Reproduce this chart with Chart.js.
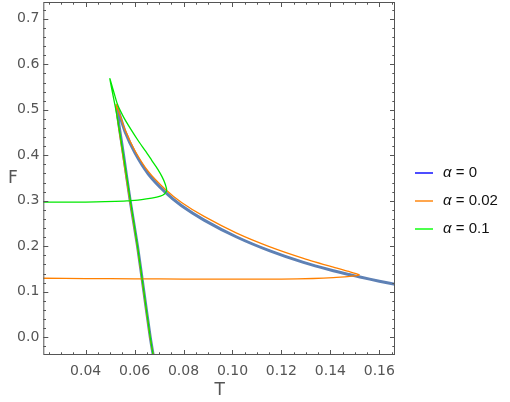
<!DOCTYPE html>
<html>
<head>
<meta charset="utf-8">
<script src="https://cdn.jsdelivr.net/npm/chart.js@4.4.1/dist/chart.umd.min.js"></script>
<style>
  html,body{margin:0;padding:0;background:#fff;}
  #wrap{width:510px;height:402px;}
</style>
</head>
<body>
<div id="wrap"><canvas id="c" width="510" height="402"></canvas></div>
<script>
// ---- data ----
const alphas = [0, 0.02, 0.1];

const tA0 = [0.170,0.1664,0.160,0.1521,0.148,0.1412,0.1290,0.1153,0.1017,0.0884,0.0792,0.0724,0.0656,0.0602,0.0561,0.0527,0.0555,0.0582,0.0612,0.0638,0.0664,0.0676,0.0680];
const fA0 = [0.1130,0.1166,0.1233,0.1324,0.1374,0.1462,0.1645,0.1898,0.2204,0.2576,0.2889,0.3195,0.3589,0.4048,0.4520,0.5064,0.40,0.30,0.20,0.10,0.0,-0.039,-0.050];

const tA1 = [0.018,0.0227,0.040,0.060,0.080,0.100,0.120,0.133,0.1412,0.148,0.1508,0.1518,0.1505,0.148,0.1412,0.1290,0.1153,0.1017,0.0884,0.0792,0.0724,0.0656,0.0602,0.0561,0.0524,0.0552,0.0581,0.0611,0.0637,0.0663,0.0676,0.0680];
const fA1 = [0.1298,0.1297,0.1290,0.1285,0.1280,0.1276,0.1280,0.1292,0.1310,0.1338,0.1355,0.1375,0.1400,0.1440,0.1540,0.1735,0.1988,0.2290,0.2656,0.2962,0.3260,0.3645,0.4095,0.4560,0.5115,0.40,0.30,0.20,0.10,0.0,-0.039,-0.050];

const tA2 = [0.018,0.0227,0.040,0.0479,0.0601,0.0670,0.0705,0.0722,0.0731,0.0725,0.0713,0.0695,0.0670,0.0645,0.0615,0.0585,0.0555,0.0530,0.0512,0.0499,0.0527,0.0554,0.0583,0.0612,0.0638,0.0664,0.0676,0.0680];
const fA2 = [0.2970,0.2970,0.2972,0.2980,0.3010,0.3060,0.3100,0.3150,0.3230,0.3370,0.3520,0.3690,0.3890,0.4090,0.4320,0.4570,0.4840,0.5120,0.5450,0.5680,0.490,0.401,0.300,0.200,0.100,0.0,-0.039,-0.050];

const xTickValues = [0.04,0.06,0.08,0.10,0.12,0.14,0.16];
const yTickValues = [0.0,0.1,0.2,0.3,0.4,0.5,0.6,0.7];
const xMinorStep = 0.005, yMinorStep = 0.02;

// ---- styles ----
const lineColors = ['#5E81B5','#FF8000','#00E800'];
const legendColors = ['#0000FF','#FF8000','#00FF00'];
const lineWidths = [3, 1.3, 1.3];
const frameColor = '#555555';
const tickFont = {family:'DejaVu Sans', size:14};

function zip(ts, fs){ return ts.map((t,i)=>({x:t, y:fs[i]})); }
const series = [[tA0,fA0],[tA1,fA1],[tA2,fA2]];

const datasets = series.map((s,i)=>({
  label: 'α = ' + alphas[i],
  data: zip(s[0], s[1]),
  showLine: true,
  borderColor: lineColors[i],
  backgroundColor: lineColors[i],
  borderWidth: lineWidths[i],
  pointRadius: 0,
  tension: 0.25,
  fill: false,
  order: 2 - i
}));

const framePlugin = {
  id: 'frame',
  afterDraw(chart){
    const ctx = chart.ctx, a = chart.chartArea;
    const xs = chart.scales.x, ys = chart.scales.y;
    ctx.save();
    ctx.strokeStyle = frameColor;
    ctx.lineWidth = 1;
    ctx.strokeRect(a.left+0.5, a.top+0.5, a.right-a.left-1, a.bottom-a.top-1);
    const isMajor = (v, arr) => arr.some(m => Math.abs(m-v) < 1e-9);
    ctx.beginPath();
    for (let k = Math.ceil(xs.min/xMinorStep); k*xMinorStep <= xs.max + 1e-12; k++){
      const v = +(k*xMinorStep).toFixed(6);
      const len = isMajor(v, xTickValues) ? 5 : 2.7;
      const px = Math.round(xs.getPixelForValue(v)) + 0.5;
      ctx.moveTo(px, a.bottom); ctx.lineTo(px, a.bottom - len);
      ctx.moveTo(px, a.top); ctx.lineTo(px, a.top + len);
    }
    for (let k = Math.ceil(ys.min/yMinorStep); k*yMinorStep <= ys.max + 1e-12; k++){
      const v = +(k*yMinorStep).toFixed(6);
      const len = isMajor(v, yTickValues) ? 5 : 2.7;
      const py = Math.round(ys.getPixelForValue(v)) + 0.5;
      ctx.moveTo(a.left, py); ctx.lineTo(a.left + len, py);
      ctx.moveTo(a.right, py); ctx.lineTo(a.right - len, py);
    }
    ctx.stroke();

    // axis titles
    ctx.fillStyle = '#555555';
    ctx.font = '17px "DejaVu Sans"';
    ctx.textBaseline = 'middle';
    ctx.textAlign = 'left';
    ctx.fillText('F', 8, 179);
    ctx.textAlign = 'center';
    ctx.fillText('T', (a.left + a.right)/2 + 0.5, 391);

    // legend
    const lx0 = 415, lx1 = 433, tx = 443, y0 = 173, dy = 28;
    ctx.textAlign = 'left';
    alphas.forEach((al, i) => {
      const y = y0 + i*dy;
      ctx.strokeStyle = legendColors[i];
      ctx.lineWidth = 1.4;
      ctx.beginPath(); ctx.moveTo(lx0, y); ctx.lineTo(lx1, y); ctx.stroke();
      ctx.fillStyle = '#111111';
      ctx.font = 'italic 15px "Liberation Sans"';
      ctx.fillText('α', tx, y);
      const w = ctx.measureText('α').width;
      ctx.font = '15px "Liberation Sans"';
      ctx.fillText(' = ' + al, tx + w, y);
    });
    ctx.restore();
  }
};

new Chart(document.getElementById('c'), {
  type: 'scatter',
  data: { datasets },
  options: {
    responsive: false,
    animation: false,
    layout: { padding: { top: 2, right: 115, left: 0, bottom: 0 } },
    plugins: { legend: { display: false }, tooltip: { enabled: false } },
    scales: {
      x: {
        type: 'linear', min: 0.0227, max: 0.1664,
        afterBuildTicks: s => { s.ticks = xTickValues.map(v => ({value: v})); },
        afterFit: s => { s.height = 47; s.paddingLeft = 0; s.paddingRight = 0; },
        ticks: { callback: v => v.toFixed(2), font: tickFont, color: '#555555', padding: 8, maxRotation: 0, autoSkip: false },
        grid: { display: false, drawTicks: false },
        border: { display: false }
      },
      y: {
        type: 'linear', min: -0.039, max: 0.737,
        afterBuildTicks: s => { s.ticks = yTickValues.map(v => ({value: v})); },
        afterFit: s => { s.width = 43.3; s.paddingTop = 0; s.paddingBottom = 0; },
        ticks: { callback: v => v.toFixed(1), font: tickFont, color: '#555555', padding: 4, autoSkip: false },
        grid: { display: false, drawTicks: false },
        border: { display: false }
      }
    }
  },
  plugins: [framePlugin]
});
</script>
</body>
</html>
